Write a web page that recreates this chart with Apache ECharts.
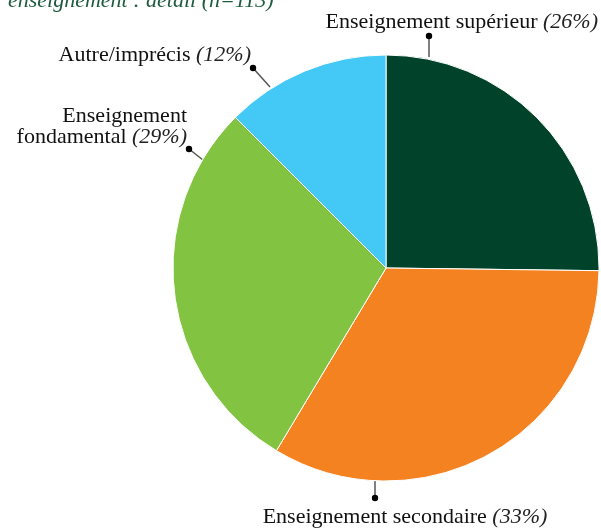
<!DOCTYPE html>
<html>
<head>
<meta charset="utf-8">
<script src="https://cdn.jsdelivr.net/npm/echarts@6/dist/echarts.min.js"></script>
<style>
html,body{margin:0;padding:0;background:#fff;}
#c{width:601px;height:528px;}
</style>
</head>
<body>
<div id="c"></div>
<script>
var categories = ['Enseignement supérieur', 'Enseignement secondaire', 'Enseignement\nfondamental', 'Autre/imprécis'];
var values = [25.2, 33.4, 28.9, 12.5];
var percents = [26, 33, 29, 12];
var colors = ['#00432A', '#F58220', '#82C341', '#44C8F5'];
var titleText = 'enseignement : détail (n=113)';

// label anchor (dot) and label placement per slice
var dots = [[429, 36], [375, 498], [189, 149], [253, 68]];
var edges = [[429, 57], [375, 481], [203, 160], [270, 87]];
var labelPos = [
  {x: 598, y: 22, align: 'right'},
  {x: 405, y: 517, align: 'center'},
  {x: 187, y: 127, align: 'right'},
  {x: 251, y: 55, align: 'right'}
];

var FONT = '"Liberation Serif", "DejaVu Serif", serif';

var data = categories.map(function (c, i) {
  return {name: c, value: values[i], pct: percents[i], itemStyle: {color: colors[i]}};
});

var chart = echarts.init(document.getElementById('c'));
chart.setOption({
  animation: false,
  textStyle: {fontFamily: FONT},
  graphic: [
    {type: 'text', left: 8, top: -10, style: {text: titleText, fontFamily: FONT, fontSize: 22, fontStyle: 'italic', fill: '#1E5B3E'}}
  ].concat(dots.map(function (d) {
    return {type: 'circle', shape: {cx: d[0], cy: d[1], r: 3.2}, style: {fill: '#000'}, z: 10};
  })),
  series: [{
    type: 'pie',
    center: [386, 268],
    radius: 213,
    startAngle: 90,
    clockwise: true,
    data: data,
    itemStyle: {borderColor: '#fff', borderWidth: 1},
    label: {
      show: true,
      overflow: 'none',
      alignTo: 'none',
      fontFamily: FONT,
      fontSize: 22,
      color: '#111',
      lineHeight: 21,
      formatter: function (p) {
        var lines = p.name.split('\n');
        return lines.map(function (s, k) {
          return k === lines.length - 1 ? '{n|' + s + '} {p|(' + p.data.pct + '%)}' : '{n|' + s + '}';
        }).join('\n');
      },
      rich: {
        n: {fontFamily: FONT, fontSize: 22, color: '#111', lineHeight: 21},
        p: {fontFamily: FONT, fontSize: 22, fontStyle: 'italic', color: '#222', lineHeight: 21}
      }
    },
    labelLine: {show: true, lineStyle: {color: '#555', width: 1.5}},
    labelLayout: function (params) {
      var i = params.dataIndex;
      var lp = labelPos[i];
      return {
        x: lp.x, y: lp.y, align: lp.align, verticalAlign: 'middle',
        labelLinePoints: [edges[i], dots[i], dots[i]]
      };
    }
  }]
});
</script>
</body>
</html>
